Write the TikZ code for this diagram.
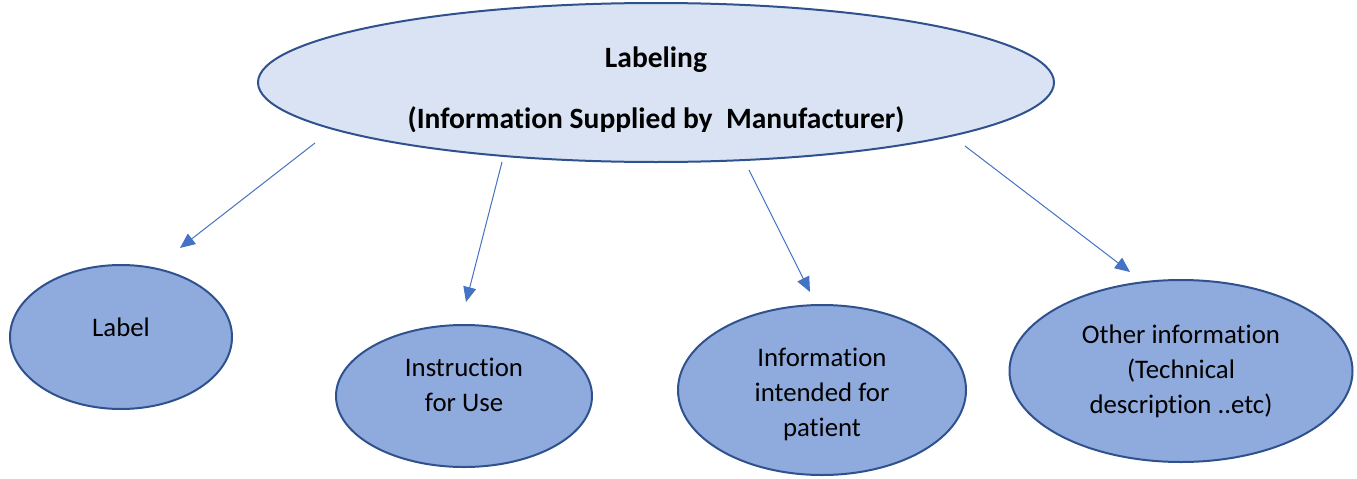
\documentclass[tikz,border=0pt]{standalone}
\usepackage{fontspec}
\setmainfont{Carlito}[RawFeature=-liga]
\usetikzlibrary{shapes.geometric,arrows.meta}
\definecolor{edgec}{HTML}{2F528F}
\definecolor{topfill}{HTML}{DAE3F3}
\definecolor{childfill}{HTML}{8FAADC}
\definecolor{arrowc}{HTML}{4472C4}
\tikzset{
  topell/.style={ellipse, draw=edgec, line width=2pt, fill=topfill, inner sep=0pt},
  childell/.style={ellipse, draw=edgec, line width=2pt, fill=childfill, inner sep=0pt},
  txt/.style={font=\fontsize{26.8}{35}\selectfont, align=center, inner sep=0pt},
  toptxt/.style={font=\bfseries\fontsize{29.5}{35}\selectfont, align=center, inner sep=0pt},
  conn/.style={draw=arrowc, line width=1pt, -{Triangle[length=15pt,width=13pt]}}
}
\begin{document}
\begin{tikzpicture}[x=1pt,y=-1pt]
\useasboundingbox (0,0) rectangle (1357,479);
\node[topell, minimum width=796pt, minimum height=159pt] (top) at (656,82.5) {};
\node[toptxt] (t1) at (656,60) {Labeling};
\begin{scope}
\clip (0,0) rectangle (1357,131);
\node[toptxt] (t2) at (656,120) {(Information Supplied by\ \ Manufacturer)};
\end{scope}
\node[childell, minimum width=222pt, minimum height=144pt] (label) at (121,337) {};
\node[txt] (labelt) at (121,327) {Label};
\node[childell, minimum width=256pt, minimum height=142pt] (ifu) at (464,396) {};
\node[txt] (ifut) at (464,385) {Instruction\\for Use};
\node[childell, minimum width=288pt, minimum height=170pt] (pat) at (822,390) {};
\node[txt] (patt) at (822,394) {Information\\intended for\\patient};
\node[childell, minimum width=343pt, minimum height=182pt] (oth) at (1181,371) {};
\node[txt] (otht) at (1181,371) {Other information\\(Technical\\description ..etc)};
\coordinate (s1) at (315,143);
\coordinate (e1) at (180,248);
\coordinate (s2) at (502,162);
\coordinate (e2) at (466,302);
\coordinate (s3) at (749,170);
\coordinate (e3) at (810,292);
\coordinate (s4) at (965,146);
\coordinate (e4) at (1130,272);
\draw[conn] (s1) -- (e1);
\draw[conn] (s2) -- (e2);
\draw[conn] (s3) -- (e3);
\draw[conn] (s4) -- (e4);
\end{tikzpicture}
\end{document}
